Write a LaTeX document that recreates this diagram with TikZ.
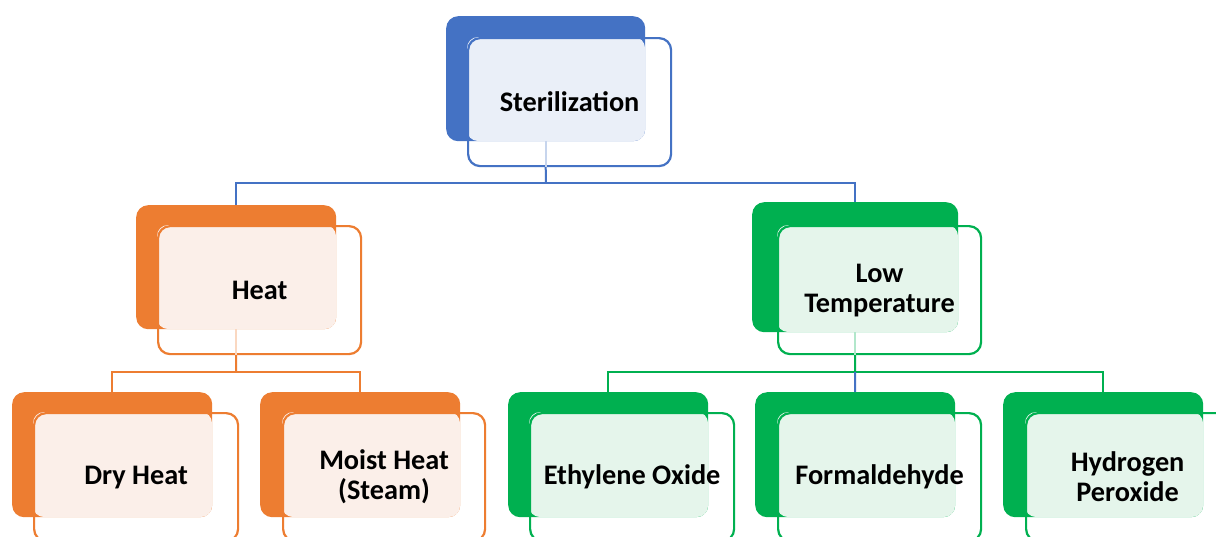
\documentclass[tikz,border=0pt]{standalone}
\usepackage{fontspec}
\setmainfont{Carlito}
\definecolor{cb}{HTML}{4472C4}
\definecolor{co}{HTML}{ED7D31}
\definecolor{cg}{HTML}{00B050}
\definecolor{lb}{HTML}{EAEFF8}
\definecolor{lo}{HTML}{FBEFE9}
\definecolor{lg}{HTML}{E5F5EB}
\tikzset{
  solidbox/.style={fill=#1, draw=none, rounded corners=12pt, anchor=north west, inner sep=0},
  litebox/.style={fill=#1, draw=none, rounded corners=11pt},
  outbox/.style={draw=#1, line width=2.2pt, rounded corners=12pt, anchor=north west, inner sep=0,
    align=center, font=\bfseries\fontsize{28.3}{30}\selectfont, text=black},
  conn/.style={draw=#1, line width=2pt},
}
\begin{document}
\begin{tikzpicture}[x=1pt,y=-1pt]
\useasboundingbox (0,0) rectangle (1216,536);
\fill[white] (0,0) rectangle (1216,536);
% junction coordinates
\coordinate (j0) at (546,183);
\coordinate (j1) at (236,372);
\coordinate (j2) at (855,372);
% solid back boxes
\node[solidbox=cb, minimum width=199pt, minimum height=125pt] (sterS) at (446,16) {};
\node[solidbox=co, minimum width=200pt, minimum height=124pt] (heatS) at (136,205) {};
\node[solidbox=cg, minimum width=206pt, minimum height=130pt] (lowS) at (752,202) {};
\node[solidbox=co, minimum width=200pt, minimum height=125pt] (dryS) at (12,392) {};
\node[solidbox=co, minimum width=200pt, minimum height=125pt] (moistS) at (260,392) {};
\node[solidbox=cg, minimum width=200pt, minimum height=125pt] (ethS) at (508,392) {};
\node[solidbox=cg, minimum width=200pt, minimum height=125pt] (formS) at (755,392) {};
\node[solidbox=cg, minimum width=200pt, minimum height=125pt] (hydS) at (1003,392) {};
% light overlap boxes
\fill[litebox=lb] (467,37) rectangle (645,141);
\fill[litebox=lo] (157,225) rectangle (336,329);
\fill[litebox=lg] (777,225) rectangle (958,332);
\fill[litebox=lo] (33,412) rectangle (212,517);
\fill[litebox=lo] (282,412) rectangle (460,517);
\fill[litebox=lg] (529,412) rectangle (708,517);
\fill[litebox=lg] (777,412) rectangle (955,517);
\fill[litebox=lg] (1025,412) rectangle (1203,517);
% outlined front boxes with text
\node[outbox=cb, minimum width=203pt, minimum height=128pt] (ster) at (467,37) {Sterilization};
\node[outbox=co, minimum width=203pt, minimum height=128pt] (heat) at (157,225) {Heat};
\node[outbox=cg, minimum width=203pt, minimum height=128pt] (low) at (777,225) {Low\\Temperature};
\node[outbox=co, minimum width=204pt, minimum height=128pt] (dry) at (33,412) {Dry Heat};
\node[outbox=co, minimum width=202pt, minimum height=128pt] (moist) at (282,412) {Moist Heat\\(Steam)};
\node[outbox=cg, minimum width=204pt, minimum height=128pt] (eth) at (529,412) {Ethylene Oxide};
\node[outbox=cg, minimum width=203pt, minimum height=128pt] (form) at (777,412) {Formaldehyde};
\node[outbox=cg, minimum width=203pt, minimum height=128pt] (hyd) at (1025,412) {Hydrogen\\Peroxide};
% connectors
\draw[conn=cb!30] (sterS.south) -- (sterS.south |- ster.south);
\draw[conn=cb] (sterS.south |- ster.south) -- (j0);
\draw[conn=cb] (heatS.north) |- (j0);
\draw[conn=cb] (lowS.north) |- (j0);
\draw[conn=co!30] (heatS.south) -- (heatS.south |- heat.south);
\draw[conn=co] (heatS.south |- heat.south) -- (j1);
\draw[conn=co] (dryS.north) |- (j1);
\draw[conn=co] (moistS.north) |- (j1);
\draw[conn=cg!30] (lowS.south) -- (lowS.south |- low.south);
\draw[conn=cg] (lowS.south |- low.south) -- (j2);
\draw[conn=cg] (ethS.north) |- (j2);
\draw[conn=cg] (hydS.north) |- (j2);
\draw[conn=cb] (formS.north) -- (j2);
\end{tikzpicture}
\end{document}
